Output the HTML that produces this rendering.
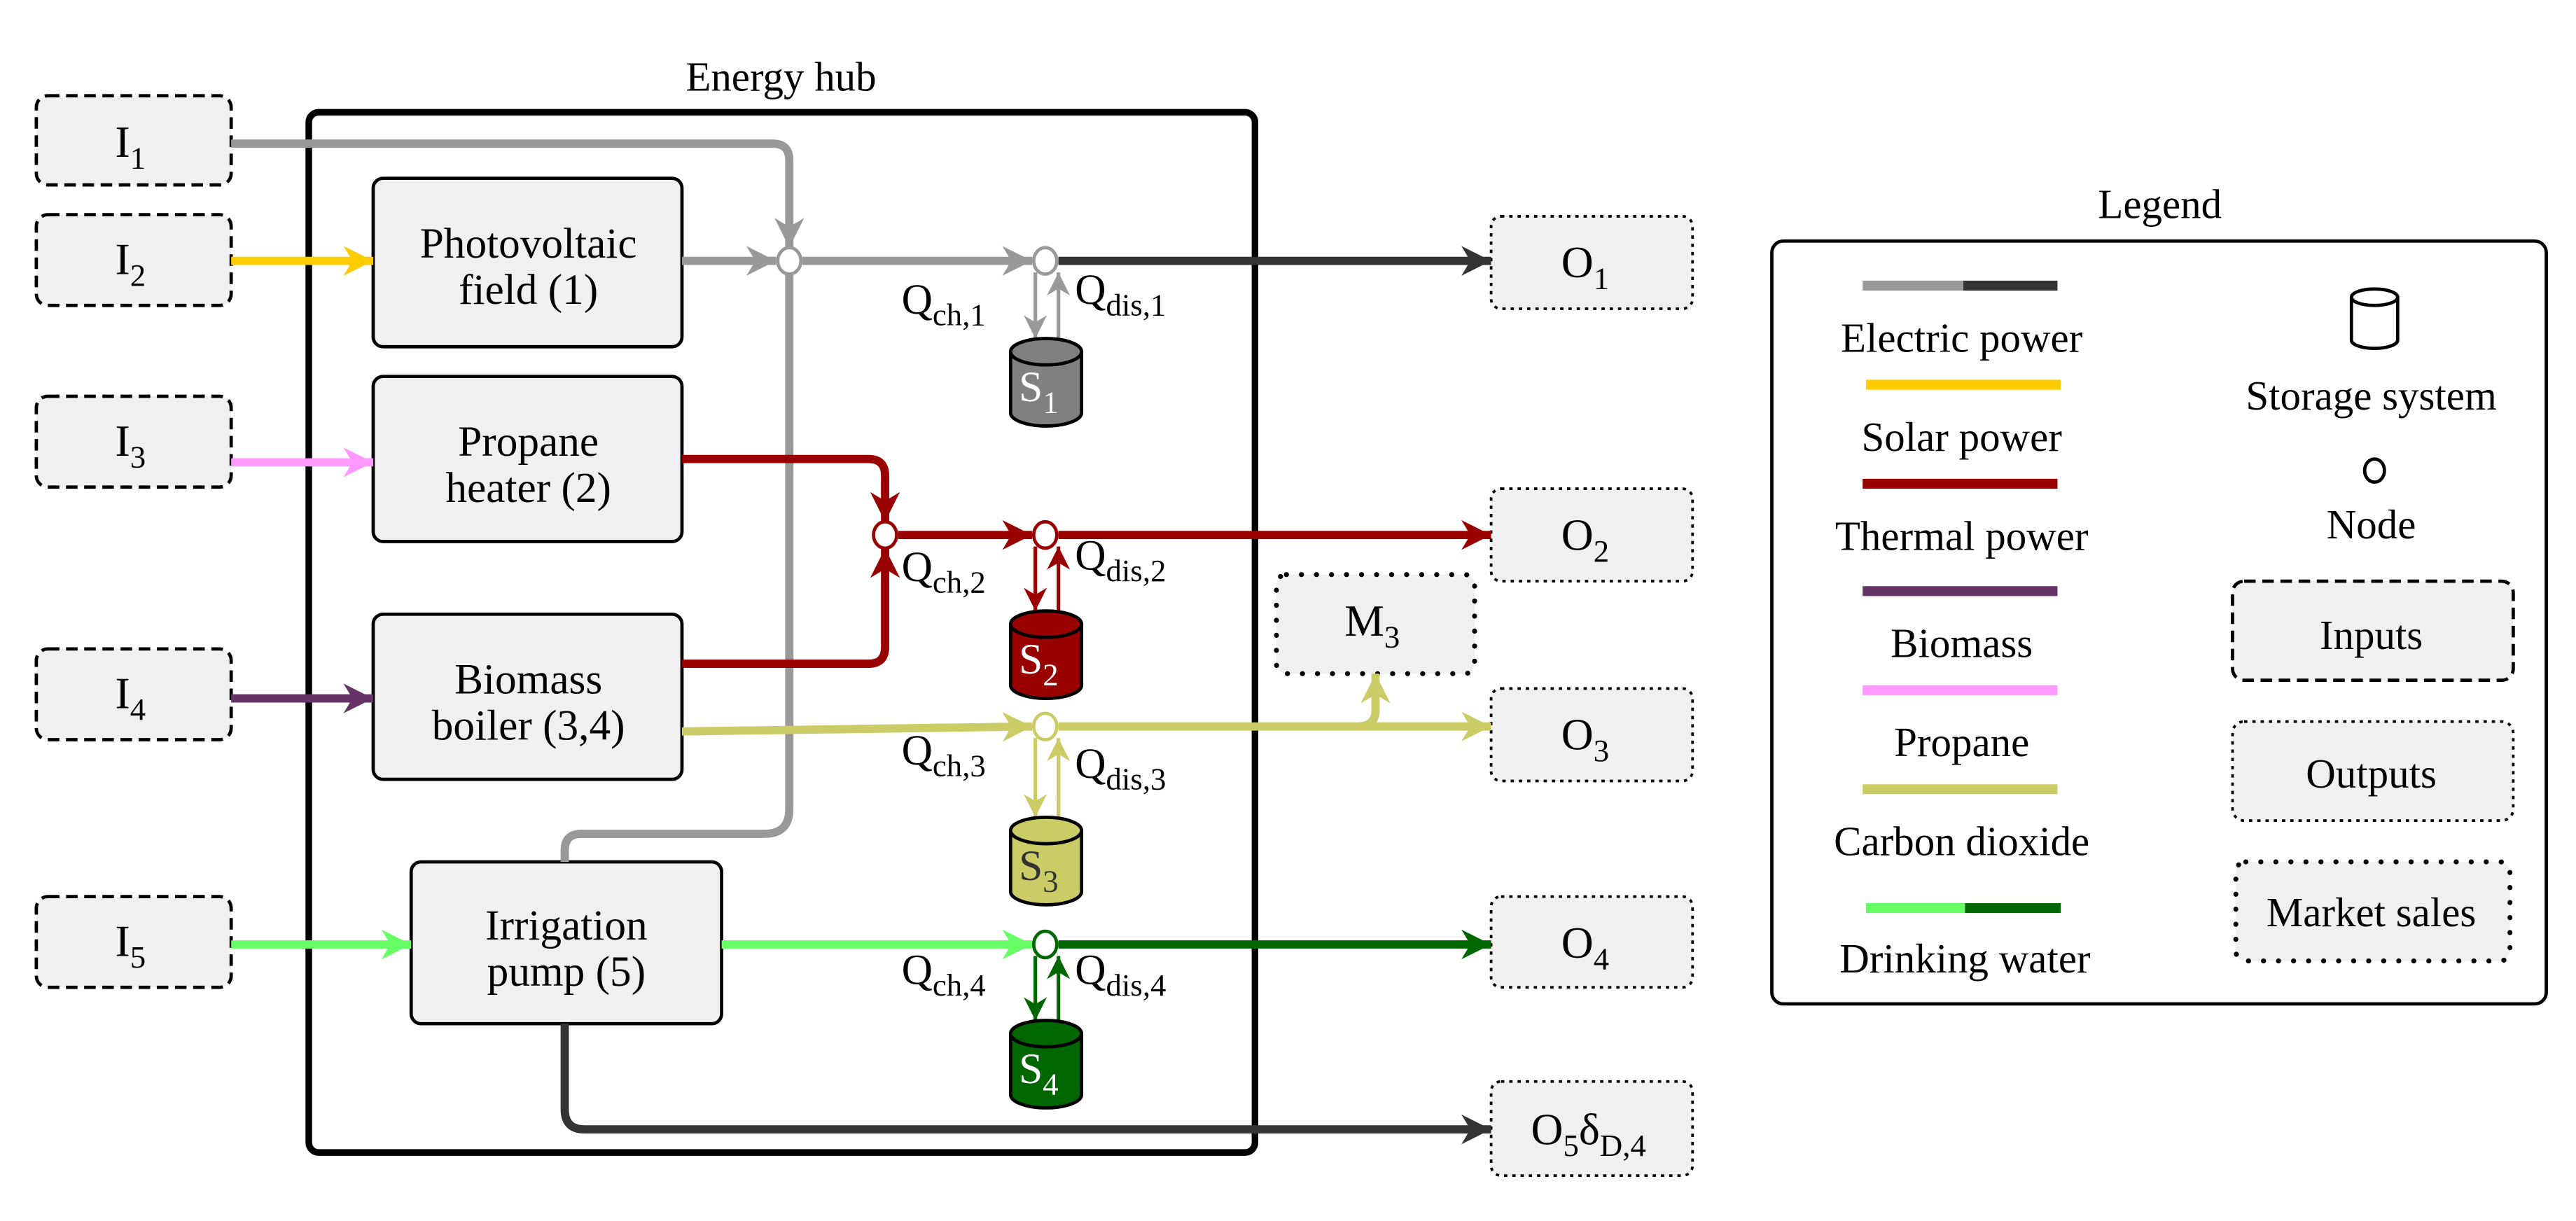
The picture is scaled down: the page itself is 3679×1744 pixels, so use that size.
<!DOCTYPE html>
<html><head><meta charset="utf-8"><style>html,body{margin:0;padding:0;background:#fff}svg{display:block}</style></head>
<body>
<svg width="3679" height="1744" viewBox="0 0 1560 739.5" preserveAspectRatio="none" xmlns="http://www.w3.org/2000/svg" font-family="'Liberation Serif', 'Noto Serif CJK SC', 'DejaVu Serif', serif" style="font-family:'Liberation Serif','Noto Serif CJK SC','DejaVu Serif',serif">
<defs>
<marker id="aG" viewBox="0 0 10 10" refX="10" refY="5" markerUnits="userSpaceOnUse" markerWidth="22" markerHeight="18" orient="auto"><path d="M0,0 L10,5 L0,10 L3,5z" fill="#999"/></marker>
<marker id="aD" viewBox="0 0 10 10" refX="10" refY="5" markerUnits="userSpaceOnUse" markerWidth="22" markerHeight="18" orient="auto"><path d="M0,0 L10,5 L0,10 L3,5z" fill="#333"/></marker>
<marker id="aY" viewBox="0 0 10 10" refX="10" refY="5" markerUnits="userSpaceOnUse" markerWidth="22" markerHeight="18" orient="auto"><path d="M0,0 L10,5 L0,10 L3,5z" fill="#ffcc00"/></marker>
<marker id="aP" viewBox="0 0 10 10" refX="10" refY="5" markerUnits="userSpaceOnUse" markerWidth="22" markerHeight="18" orient="auto"><path d="M0,0 L10,5 L0,10 L3,5z" fill="#ff99ff"/></marker>
<marker id="aR" viewBox="0 0 10 10" refX="10" refY="5" markerUnits="userSpaceOnUse" markerWidth="22" markerHeight="18" orient="auto"><path d="M0,0 L10,5 L0,10 L3,5z" fill="#990000"/></marker>
<marker id="aV" viewBox="0 0 10 10" refX="10" refY="5" markerUnits="userSpaceOnUse" markerWidth="22" markerHeight="18" orient="auto"><path d="M0,0 L10,5 L0,10 L3,5z" fill="#663366"/></marker>
<marker id="aO" viewBox="0 0 10 10" refX="10" refY="5" markerUnits="userSpaceOnUse" markerWidth="22" markerHeight="18" orient="auto"><path d="M0,0 L10,5 L0,10 L3,5z" fill="#cccc66"/></marker>
<marker id="aL" viewBox="0 0 10 10" refX="10" refY="5" markerUnits="userSpaceOnUse" markerWidth="22" markerHeight="18" orient="auto"><path d="M0,0 L10,5 L0,10 L3,5z" fill="#66ff66"/></marker>
<marker id="aK" viewBox="0 0 10 10" refX="10" refY="5" markerUnits="userSpaceOnUse" markerWidth="22" markerHeight="18" orient="auto"><path d="M0,0 L10,5 L0,10 L3,5z" fill="#006600"/></marker>
<marker id="sG" viewBox="0 0 10 10" refX="10" refY="5" markerUnits="userSpaceOnUse" markerWidth="16" markerHeight="14" orient="auto"><path d="M0,0 L10,5 L0,10 L3,5z" fill="#999"/></marker>
<marker id="sR" viewBox="0 0 10 10" refX="10" refY="5" markerUnits="userSpaceOnUse" markerWidth="16" markerHeight="14" orient="auto"><path d="M0,0 L10,5 L0,10 L3,5z" fill="#990000"/></marker>
<marker id="sO" viewBox="0 0 10 10" refX="10" refY="5" markerUnits="userSpaceOnUse" markerWidth="16" markerHeight="14" orient="auto"><path d="M0,0 L10,5 L0,10 L3,5z" fill="#cccc66"/></marker>
<marker id="sK" viewBox="0 0 10 10" refX="10" refY="5" markerUnits="userSpaceOnUse" markerWidth="16" markerHeight="14" orient="auto"><path d="M0,0 L10,5 L0,10 L3,5z" fill="#006600"/></marker>
</defs>

<text x="473" y="55" font-size="25" text-anchor="middle">Energy hub</text>
<rect x="187" y="68" width="573" height="630" rx="6" fill="none" stroke="#000" stroke-width="4"/>

<g fill="#f0f0f0" stroke="#000" stroke-width="2" stroke-dasharray="7,4">
<rect x="22" y="58" width="118" height="54" rx="7"/>
<rect x="22" y="130" width="118" height="55" rx="7"/>
<rect x="22" y="240" width="118" height="55" rx="7"/>
<rect x="22" y="393" width="118" height="55" rx="7"/>
<rect x="22" y="543" width="118" height="55" rx="7"/>
</g>
<g font-size="27" text-anchor="middle">
<text x="79" y="95">I<tspan font-size="19" dy="7">1</tspan></text>
<text x="79" y="166">I<tspan font-size="19" dy="7">2</tspan></text>
<text x="79" y="276">I<tspan font-size="19" dy="7">3</tspan></text>
<text x="79" y="429">I<tspan font-size="19" dy="7">4</tspan></text>
<text x="79" y="579">I<tspan font-size="19" dy="7">5</tspan></text>
</g>

<g fill="#f0f0f0" stroke="#000" stroke-width="2">
<rect x="226" y="108" width="187" height="102" rx="6"/>
<rect x="226" y="228" width="187" height="100" rx="6"/>
<rect x="226" y="372" width="187" height="100" rx="6"/>
<rect x="249" y="522" width="188" height="98" rx="6"/>
</g>
<g font-size="26" text-anchor="middle">
<text x="320" y="156">Photovoltaic</text><text x="320" y="184">field (1)</text>
<text x="320" y="276">Propane</text><text x="320" y="304">heater (2)</text>
<text x="320" y="420">Biomass</text><text x="320" y="448">boiler (3,4)</text>
<text x="343" y="569">Irrigation</text><text x="343" y="597">pump (5)</text>
</g>

<g fill="#f0f0f0" stroke="#000" stroke-width="1.6" stroke-dasharray="2,3">
<rect x="903" y="131" width="122" height="56" rx="6"/>
<rect x="903" y="296" width="122" height="56" rx="6"/>
<rect x="903" y="417" width="122" height="56" rx="6"/>
<rect x="903" y="543" width="122" height="55" rx="6"/>
<rect x="903" y="655" width="122" height="57" rx="6"/>
</g>
<rect x="773" y="348" width="120" height="60" rx="6" fill="#f0f0f0" stroke="#000" stroke-width="3" stroke-dasharray="0.1,9" stroke-linecap="round"/>
<g font-size="27" text-anchor="middle">
<text x="960" y="168">O<tspan font-size="19" dy="7">1</tspan></text>
<text x="960" y="333">O<tspan font-size="19" dy="7">2</tspan></text>
<text x="960" y="454">O<tspan font-size="19" dy="7">3</tspan></text>
<text x="960" y="580">O<tspan font-size="19" dy="7">4</tspan></text>
<text x="962" y="693">O<tspan font-size="19" dy="7">5</tspan><tspan dy="-7">δ</tspan><tspan font-size="19" dy="7">D,4</tspan></text>
<text x="831" y="385">M<tspan font-size="19" dy="7">3</tspan></text>
</g>

<g fill="none" stroke-width="5">
<path d="M140,87 H468 Q478,87 478,97 V150" stroke="#999" marker-end="url(#aG)"/>
<path d="M478,166 V490 Q478,505 463,505 H352 Q342,505 342,515 V522" stroke="#999"/>
<path d="M140,158 H226" stroke="#ffcc00" marker-end="url(#aY)"/>
<path d="M413,158 H470" stroke="#999" marker-end="url(#aG)"/>
<path d="M486,158 H625" stroke="#999" marker-end="url(#aG)"/>
<path d="M641,158 H903" stroke="#333" marker-end="url(#aD)"/>
<path d="M140,280 H226" stroke="#ff99ff" marker-end="url(#aP)"/>
<path d="M413,278 H526 Q536,278 536,288 V316" stroke="#990000" marker-end="url(#aR)"/>
<path d="M413,402 H526 Q536,402 536,392 V332" stroke="#990000" marker-end="url(#aR)"/>
<path d="M544,324 H625" stroke="#990000" marker-end="url(#aR)"/>
<path d="M641,324 H903" stroke="#990000" marker-end="url(#aR)"/>
<path d="M140,423 H226" stroke="#663366" marker-end="url(#aV)"/>
<path d="M413,443 L625,440" stroke="#cccc66" marker-end="url(#aO)"/>
<path d="M641,440 H903" stroke="#cccc66" marker-end="url(#aO)"/>
<path d="M822,440 Q833,440 833,430 V408" stroke="#cccc66" marker-end="url(#aO)"/>
<path d="M140,572 H249" stroke="#66ff66" marker-end="url(#aL)"/>
<path d="M437,572 H625" stroke="#66ff66" marker-end="url(#aL)"/>
<path d="M641,572 H903" stroke="#006600" marker-end="url(#aK)"/>
<path d="M342,620 V672 Q342,684 354,684 H903" stroke="#333" marker-end="url(#aD)"/>
</g>
<g fill="none" stroke-width="2.2">
<path d="M627,165 V205" stroke="#999" marker-end="url(#sG)"/><path d="M641,205 V165" stroke="#999" marker-end="url(#sG)"/>
<path d="M627,331 V370" stroke="#990000" marker-end="url(#sR)"/><path d="M641,370 V331" stroke="#990000" marker-end="url(#sR)"/>
<path d="M627,447 V495" stroke="#cccc66" marker-end="url(#sO)"/><path d="M641,495 V447" stroke="#cccc66" marker-end="url(#sO)"/>
<path d="M627,579 V618" stroke="#006600" marker-end="url(#sK)"/><path d="M641,618 V579" stroke="#006600" marker-end="url(#sK)"/>
</g>
<g fill="#fff" stroke-width="2">
<ellipse cx="478" cy="158" rx="7" ry="8" stroke="#999"/>
<ellipse cx="633" cy="158" rx="7" ry="8" stroke="#999"/>
<ellipse cx="536" cy="324" rx="7" ry="8" stroke="#990000"/>
<ellipse cx="633" cy="324" rx="7" ry="8" stroke="#990000"/>
<ellipse cx="633" cy="440" rx="7" ry="8" stroke="#cccc66"/>
<ellipse cx="633" cy="572" rx="7" ry="8" stroke="#006600"/>
</g>
<g stroke="#000" stroke-width="2">
<path d="M612,213 V250 A21.5,8 0 0 0 655,250 V213" fill="#808080"/><ellipse cx="633.5" cy="213" rx="21.5" ry="8" fill="#808080"/>
<path d="M612,378 V415 A21.5,8 0 0 0 655,415 V378" fill="#990000"/><ellipse cx="633.5" cy="378" rx="21.5" ry="8" fill="#990000"/>
<path d="M612,503 V540 A21.5,8 0 0 0 655,540 V503" fill="#cccc66"/><ellipse cx="633.5" cy="503" rx="21.5" ry="8" fill="#cccc66"/>
<path d="M612,626 V663 A21.5,8 0 0 0 655,663 V626" fill="#006600"/><ellipse cx="633.5" cy="626" rx="21.5" ry="8" fill="#006600"/>
</g>
<g font-size="26" text-anchor="middle">
<text x="629" y="243" fill="#fff">S<tspan font-size="19" dy="7">1</tspan></text>
<text x="629" y="408" fill="#fff">S<tspan font-size="19" dy="7">2</tspan></text>
<text x="629" y="533" fill="#333">S<tspan font-size="19" dy="7">3</tspan></text>
<text x="629" y="656" fill="#fff">S<tspan font-size="19" dy="7">4</tspan></text>
</g>
<g font-size="26">
<text x="546" y="190">Q<tspan font-size="19" dy="7">ch,1</tspan></text>
<text x="651" y="184">Q<tspan font-size="19" dy="7">dis,1</tspan></text>
<text x="546" y="352">Q<tspan font-size="19" dy="7">ch,2</tspan></text>
<text x="651" y="345">Q<tspan font-size="19" dy="7">dis,2</tspan></text>
<text x="546" y="463">Q<tspan font-size="19" dy="7">ch,3</tspan></text>
<text x="651" y="471">Q<tspan font-size="19" dy="7">dis,3</tspan></text>
<text x="546" y="596">Q<tspan font-size="19" dy="7">ch,4</tspan></text>
<text x="651" y="596">Q<tspan font-size="19" dy="7">dis,4</tspan></text>
</g>

<text x="1308" y="132" font-size="25" text-anchor="middle">Legend</text>
<rect x="1073" y="146" width="469" height="462" rx="7" fill="none" stroke="#000" stroke-width="2"/>
<g stroke-width="6">
<line x1="1128" y1="173" x2="1189" y2="173" stroke="#999"/><line x1="1189" y1="173" x2="1246" y2="173" stroke="#333"/>
<line x1="1130" y1="233" x2="1248" y2="233" stroke="#ffcc00"/>
<line x1="1128" y1="293" x2="1246" y2="293" stroke="#990000"/>
<line x1="1128" y1="358" x2="1246" y2="358" stroke="#663366"/>
<line x1="1128" y1="418" x2="1246" y2="418" stroke="#ff99ff"/>
<line x1="1128" y1="478" x2="1246" y2="478" stroke="#cccc66"/>
<line x1="1130" y1="550" x2="1190" y2="550" stroke="#66ff66"/><line x1="1190" y1="550" x2="1248" y2="550" stroke="#006600"/>
</g>
<g fill="none" stroke="#000" stroke-width="2">
<path d="M1424,180 V206 A14,5 0 0 0 1452,206 V180"/><ellipse cx="1438" cy="180" rx="14" ry="5"/>
<ellipse cx="1438" cy="285" rx="6" ry="7"/>
</g>
<rect x="1352" y="352" width="170" height="60" rx="7" fill="#f0f0f0" stroke="#000" stroke-width="2" stroke-dasharray="7,4"/>
<rect x="1352" y="437" width="170" height="60" rx="7" fill="#f0f0f0" stroke="#000" stroke-width="1.6" stroke-dasharray="2,3"/>
<rect x="1354" y="522" width="166" height="60" rx="6" fill="#f0f0f0" stroke="#000" stroke-width="3" stroke-dasharray="0.1,9" stroke-linecap="round"/>
<g font-size="25" text-anchor="middle">
<text x="1188" y="213">Electric power</text>
<text x="1188" y="273">Solar power</text>
<text x="1188" y="333">Thermal power</text>
<text x="1188" y="398">Biomass</text>
<text x="1188" y="458">Propane</text>
<text x="1188" y="518">Carbon dioxide</text>
<text x="1190" y="589">Drinking water</text>
<text x="1436" y="248">Storage system</text>
<text x="1436" y="326">Node</text>
<text x="1436" y="393">Inputs</text>
<text x="1436" y="477">Outputs</text>
<text x="1436" y="561">Market sales</text>
</g>
</svg>
</body></html>
